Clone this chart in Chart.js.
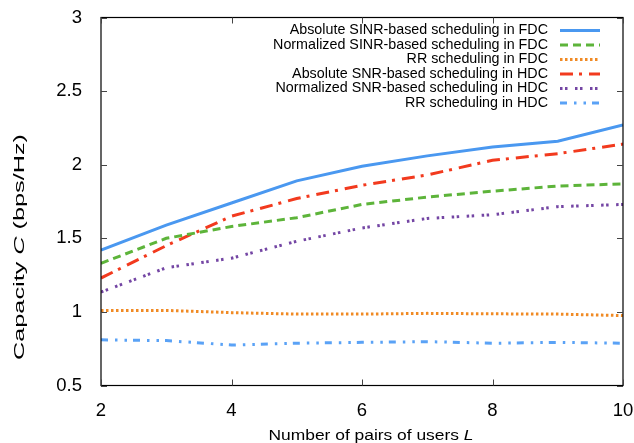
<!DOCTYPE html>
<html>
<head>
<meta charset="utf-8">
<script src="https://cdn.jsdelivr.net/npm/chart.js@4.4.0/dist/chart.umd.min.js"></script>
<style>
  html, body { margin: 0; padding: 0; background: #fff; }
  #wrap { width: 634px; height: 443px; }
</style>
</head>
<body>
<div id="wrap"><canvas id="capChart" width="634" height="443"></canvas></div>
<script>
// number of pairs of users L
const pairs = [2, 3, 4, 5, 6, 7, 8, 9, 10];

// capacity values (bps/Hz)
const absSinrFdc  = [1.42, 1.59, 1.74, 1.89, 1.99, 2.06, 2.12, 2.16, 2.27];
const normSinrFdc = [1.33, 1.50, 1.58, 1.64, 1.73, 1.78, 1.82, 1.855, 1.87];
const rrFdc       = [1.01, 1.01, 0.995, 0.985, 0.985, 0.99, 0.987, 0.985, 0.975];
const absSnrHdc   = [1.23, 1.45, 1.65, 1.77, 1.86, 1.93, 2.03, 2.075, 2.14];
const normSnrHdc  = [1.135, 1.30, 1.365, 1.48, 1.57, 1.635, 1.66, 1.715, 1.73];
const rrHdc       = [0.81, 0.805, 0.775, 0.787, 0.793, 0.798, 0.787, 0.793, 0.787];

const seriesNames = [
    'Absolute SINR-based scheduling in FDC',
    'Normalized SINR-based scheduling in FDC',
    'RR scheduling in FDC',
    'Absolute SNR-based scheduling in HDC',
    'Normalized SNR-based scheduling in HDC',
    'RR scheduling in HDC'
];

const xTicks = [2, 4, 6, 8, 10];
const yTicks = [0.5, 1, 1.5, 2, 2.5, 3];

const FONT = '"Liberation Sans", Arial, Helvetica, sans-serif';

function toPoints(values) {
    return pairs.map((l, i) => ({ x: l, y: values[i] }));
}

const styles = [
    { color: '#4a98f0', dash: [],                 width: 3 },
    { color: '#5db43a', dash: [8, 5],             width: 3 },
    { color: '#f08a24', dash: [2.5, 2.5],         width: 3 },
    { color: '#f23a1e', dash: [13, 6, 3, 7],      width: 3 },
    { color: '#7446a4', dash: [2.5, 2.5, 2.5, 7.5], width: 3 },
    { color: '#5aa2f6', dash: [7, 7, 2.5, 7, 2.5, 6], width: 3 }
];

const allValues = [absSinrFdc, normSinrFdc, rrFdc, absSnrHdc, normSnrHdc, rrHdc];

const datasets = allValues.map((vals, i) => ({
    label: seriesNames[i],
    data: toPoints(vals),
    borderColor: styles[i].color,
    backgroundColor: styles[i].color,
    borderWidth: styles[i].width,
    borderDash: styles[i].dash,
    borderCapStyle: 'butt',
    pointRadius: 0,
    tension: 0,
    fill: false
}));

// frame with inward ticks, gnuplot style
const framePlugin = {
    id: 'frame',
    afterDatasetsDraw(chart) {
        const { ctx, chartArea: a, scales } = chart;
        ctx.save();
        ctx.strokeStyle = '#000';
        ctx.lineWidth = 1.2;
        ctx.strokeRect(a.left, a.top, a.right - a.left, a.bottom - a.top);
        ctx.strokeStyle = '#444';
        ctx.lineWidth = 1;
        xTicks.forEach(v => {
            const px = Math.round(scales.x.getPixelForValue(v)) + 0.5;
            ctx.beginPath();
            ctx.moveTo(px, a.bottom); ctx.lineTo(px, a.bottom - 6);
            ctx.moveTo(px, a.top); ctx.lineTo(px, a.top + 6);
            ctx.stroke();
        });
        yTicks.forEach(v => {
            const py = Math.round(scales.y.getPixelForValue(v)) + 0.5;
            ctx.beginPath();
            ctx.moveTo(a.left, py); ctx.lineTo(a.left + 6, py);
            ctx.moveTo(a.right, py); ctx.lineTo(a.right - 6, py);
            ctx.stroke();
        });
        ctx.restore();
    }
};

// legend in the top right corner, text right aligned, sample on the right
const legendPlugin = {
    id: 'sideLegend',
    afterDraw(chart) {
        const ctx = chart.ctx;
        const textRight = 548;
        const sampleX0 = 560, sampleX1 = 600;
        const rowY0 = 30.5, rowStep = 14.5;
        ctx.save();
        ctx.font = '14.3px ' + FONT;
        ctx.textAlign = 'right';
        ctx.textBaseline = 'middle';
        chart.data.datasets.forEach((ds, i) => {
            const y = rowY0 + i * rowStep;
            ctx.fillStyle = '#000';
            ctx.fillText(ds.label, textRight, y);
            ctx.strokeStyle = ds.borderColor;
            ctx.lineWidth = ds.borderWidth;
            ctx.setLineDash(ds.borderDash);
            ctx.beginPath();
            ctx.moveTo(sampleX0, y);
            ctx.lineTo(sampleX1, y);
            ctx.stroke();
        });
        ctx.restore();
    }
};

// axis titles with italic symbols, stretched to the length seen in the figure
function drawMixed(ctx, parts, x, y, targetWidth) {
    let total = 0;
    parts.forEach(p => {
        ctx.font = (p.italic ? 'italic ' : '') + '14px ' + FONT;
        p.w = ctx.measureText(p.text).width;
        total += p.w;
    });
    const k = targetWidth / total;
    ctx.save();
    ctx.translate(x, y);
    ctx.scale(k, 1);
    let cx = -total / 2;
    parts.forEach(p => {
        ctx.font = (p.italic ? 'italic ' : '') + '14px ' + FONT;
        ctx.fillText(p.text, cx, 0);
        cx += p.w;
    });
    ctx.restore();
}

const titlePlugin = {
    id: 'axisTitles',
    afterDraw(chart) {
        const { ctx } = chart;
        ctx.save();
        ctx.fillStyle = '#000';
        ctx.textAlign = 'left';
        ctx.textBaseline = 'middle';
        drawMixed(ctx, [{ text: 'Number of pairs of users ' }, { text: 'L', italic: true }],
            371, 436, 205);
        ctx.translate(20, 247);
        ctx.rotate(-Math.PI / 2);
        drawMixed(ctx, [{ text: 'Capacity ' }, { text: 'C', italic: true }, { text: ' (bps/Hz)' }], 0, 0, 226);
        ctx.restore();
    }
};

new Chart(document.getElementById('capChart'), {
    type: 'line',
    data: { datasets: datasets },
    options: {
        responsive: false,
        animation: false,
        layout: { padding: { top: 17.5, right: 11, left: 0, bottom: 0 } },
        plugins: {
            legend: { display: false },
            tooltip: { enabled: false }
        },
        scales: {
            x: {
                type: 'linear',
                min: 2,
                max: 10,
                afterFit(scale) {
                    scale.height = 57.5;
                    scale.paddingLeft = 0;
                    scale.paddingRight = 0;
                },
                afterBuildTicks(scale) { scale.ticks = xTicks.map(v => ({ value: v })); },
                grid: { display: false },
                border: { display: false },
                ticks: {
                    color: '#000',
                    font: { family: FONT, size: 18.5 },
                    padding: 6,
                    maxRotation: 0,
                    callback: v => String(v)
                }
            },
            y: {
                type: 'linear',
                min: 0.5,
                max: 3,
                afterFit(scale) {
                    scale.width = 101;
                    scale.paddingTop = 0;
                    scale.paddingBottom = 0;
                },
                afterBuildTicks(scale) { scale.ticks = yTicks.map(v => ({ value: v })); },
                grid: { display: false },
                border: { display: false },
                ticks: {
                    color: '#000',
                    font: { family: FONT, size: 18.5 },
                    padding: 11,
                    callback: v => String(v)
                }
            }
        }
    },
    plugins: [framePlugin, legendPlugin, titlePlugin]
});
</script>
</body>
</html>
